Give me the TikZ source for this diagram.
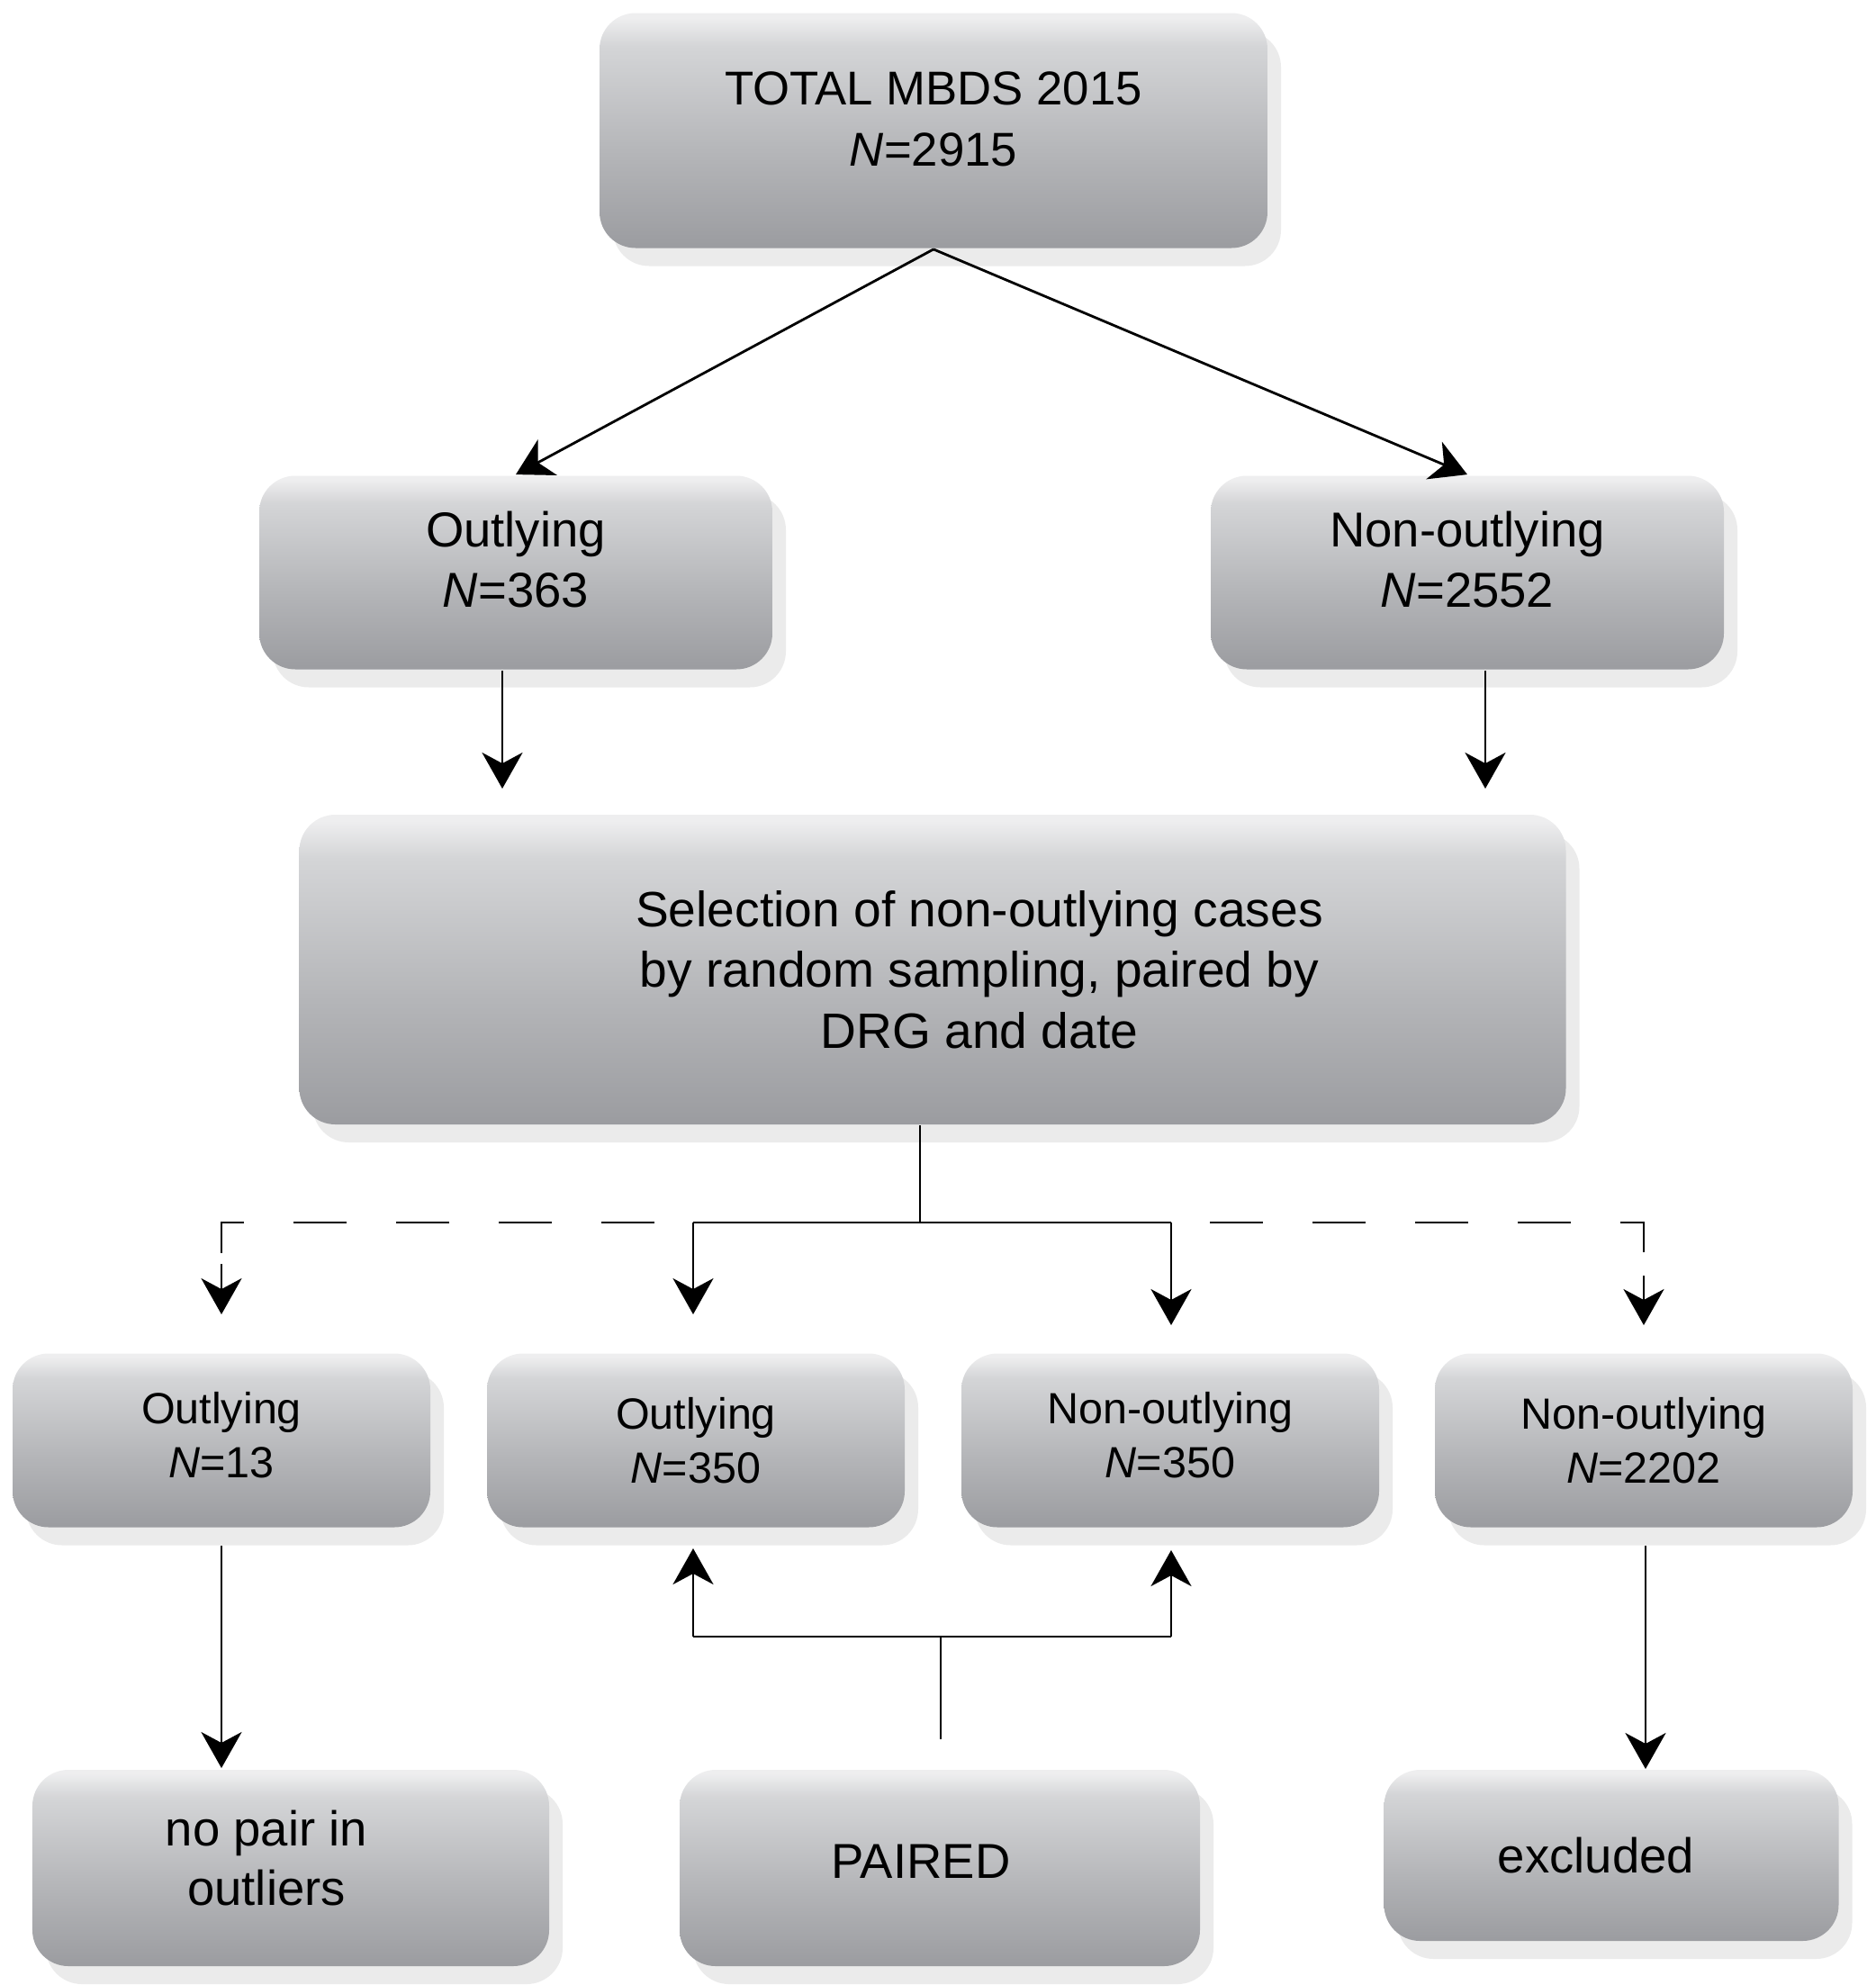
\documentclass[tikz,border=0pt]{standalone}
\usepackage{fontspec}
\setmainfont{Liberation Sans}
\usepackage{tikz}
\usetikzlibrary{arrows.meta}
\usetikzlibrary{shadows}
\definecolor{boxbot}{RGB}{155,156,160}
\definecolor{boxmid}{RGB}{180,181,184}
\definecolor{boxtop}{RGB}{212,213,215}
\definecolor{boxhi}{RGB}{238,238,239}
\definecolor{shadowgrey}{RGB}{235,235,235}
\pgfdeclareverticalshading{boxshade}{100bp}{color(0bp)=(boxbot); color(25bp)=(boxbot);
  color(45bp)=(boxmid); color(68bp)=(boxtop); color(74bp)=(boxhi); color(100bp)=(boxhi)}
\tikzset{box/.style = {shade, shading=boxshade, rounded corners=4mm, align=center, inner sep=0,
                       drop shadow={shadow xshift=1.5mm, shadow yshift=-2mm, fill=shadowgrey, opacity=1},
                       font=\fontsize{15.5}{19}\selectfont}}
\tikzset{small/.style = {font=\fontsize{13.8}{17.2}\selectfont}}
\tikzset{lbl/.style = {align=center, font=\fontsize{15.5}{19}\selectfont}}
\tikzset{arr/.style = {-{Stealth[length=4mm, width=4.5mm, inset=1.2mm]}}}
\tikzset{dashline/.style = {dash pattern=on 5.9mm off 5.5mm, dash phase=7.1mm}}

\begin{document}
\begin{tikzpicture}[line width=0.8pt]
    \useasboundingbox (0, 0) rectangle (20.84, -22.05);

    \node [box, minimum width=7.42cm, minimum height=2.61cm, text depth=2.6mm,
           font=\fontsize{15}{19.3}\selectfont] (total) at (10.37, -1.45) {TOTAL MBDS 2015\\\textit{N}=2915};

    \node [box, minimum width=5.70cm, minimum height=2.15cm, text depth=3mm] (out1) at (5.73, -6.36) {Outlying\\\textit{N}=363};
    \node [box, minimum width=5.70cm, minimum height=2.15cm, text depth=3mm] (non1) at (16.30, -6.36) {Non-outlying\\\textit{N}=2552};

    \node [box, minimum width=14.07cm, minimum height=3.44cm,
           label={[lbl, xshift=5.2mm, font=\fontsize{15.7}{19.2}\selectfont]center:{Selection of non-outlying cases\\by random sampling, paired by\\DRG and date}}] (select) at (10.36, -10.77) {};

    \node [box, small, minimum width=4.64cm, minimum height=1.93cm, text depth=1.2mm] (outA) at (2.46, -16.00) {Outlying\\\textit{N}=13};
    \node [box, small, minimum width=4.64cm, minimum height=1.93cm] (outB) at (7.73, -16.00) {Outlying\\\textit{N}=350};
    \node [box, small, minimum width=4.64cm, minimum height=1.93cm, text depth=1.2mm] (nonC) at (13.00, -16.00) {Non-outlying\\\textit{N}=350};
    \node [box, small, minimum width=4.64cm, minimum height=1.93cm] (nonD) at (18.26, -16.00) {Non-outlying\\\textit{N}=2202};

    \node [box, minimum width=5.74cm, minimum height=2.18cm,
           label={[lbl, xshift=-2.7mm, yshift=1.1mm]center:{no pair in\\outliers}}] (nopair) at (3.23, -20.75) {};
    \node [box, minimum width=5.78cm, minimum height=2.18cm,
           label={[lbl, xshift=-2.1mm, yshift=0.7mm]center:PAIRED}] (paired) at (10.44, -20.75) {};
    \node [box, minimum width=5.05cm, minimum height=1.90cm,
           label={[lbl, xshift=-1.7mm]center:excluded}] (excl) at (17.90, -20.61) {};

    \draw [arr] (total.south) -- (out1.north);
    \draw [arr] (total.south) -- (non1.north);

    \coordinate (oarr) at (5.58, -8.76);
    \coordinate (narr) at (16.50, -8.76);
    \draw [arr] (out1.south -| oarr) -- (oarr);
    \draw [arr] (non1.south -| narr) -- (narr);

    \coordinate (split) at (10.22, -13.58);
    \coordinate (jl) at (7.70, -13.58);
    \coordinate (jr) at (13.01, -13.58);
    \coordinate (tb) at (7.70, -14.60);
    \coordinate (tc) at (13.01, -14.72);
    \draw (select.south -| split) -- (split);
    \draw (jl) -- (jr);
    \draw [arr] (jl) -- (tb);
    \draw [arr] (jr) -- (tc);

    \coordinate (da) at (2.46, -13.92);
    \coordinate (sa) at (2.46, -14.04);
    \coordinate (ta) at (2.46, -14.60);
    \coordinate (dd) at (18.26, -13.92);
    \coordinate (sd) at (18.26, -14.17);
    \coordinate (td) at (18.26, -14.72);
    \draw [dashline] (jl) -- (jl -| da) -- (da);
    \draw [dashline] (jr) -- (jr -| dd) -- (dd);
    \draw [arr] (sa) -- (ta);
    \draw [arr] (sd) -- (td);

    \coordinate (ml) at (7.70, -18.18);
    \coordinate (mr) at (13.01, -18.18);
    \coordinate (pm) at (10.45, -18.18);
    \coordinate (pe) at (10.45, -19.32);
    \coordinate (ub) at (7.70, -17.20);
    \coordinate (uc) at (13.01, -17.22);
    \draw (ml) -- (mr);
    \draw [arr] (ml) -- (ub);
    \draw [arr] (mr) -- (uc);
    \draw (pm) -- (pe);

    \coordinate (na) at (2.46, -19.64);
    \coordinate (nd) at (18.28, -19.65);
    \draw [arr] ([yshift=-1.9mm]outA.south) -- (na);
    \draw [arr] ([yshift=-1.9mm]nonD.south -| nd) -- (nd);
\end{tikzpicture}
\end{document}
